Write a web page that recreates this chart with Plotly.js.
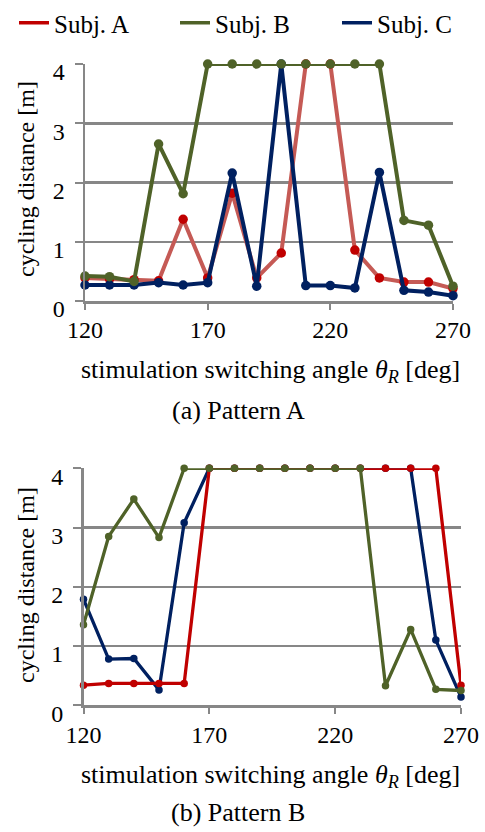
<!DOCTYPE html>
<html>
<head>
<meta charset="utf-8">
<script src="https://cdn.plot.ly/plotly-3.0.1.min.js"></script>
<style>html,body{margin:0;padding:0;background:#fff}#chart{width:485px;height:832px}</style>
</head>
<body>
<div id="chart"></div>
<script>
// switching angles [deg]
const angles = [120,130,140,150,160,170,180,190,200,210,220,230,240,250,260,270];
const xTicks = [120,170,220,270];
const yTicks = [0,1,2,3,4];

// Pattern A: cycling distance [m]
const patternA_subjA = [0.39,0.37,0.36,0.34,1.38,0.39,1.82,0.39,0.81,4,4,0.86,0.39,0.32,0.32,0.21];
const patternA_subjB = [0.42,0.41,0.33,2.65,1.81,4,4,4,4,4,4,4,4,1.36,1.28,0.25];
const patternA_subjC = [0.27,0.27,0.27,0.31,0.27,0.31,2.16,0.25,4,0.26,0.26,0.22,2.17,0.18,0.15,0.09];

// Pattern B: cycling distance [m]
const patternB_subjA = [0.34,0.37,0.37,0.37,0.37,4,4,4,4,4,4,4,4,4,4,0.34];
const patternB_subjB = [1.36,2.85,3.48,2.83,4,4,4,4,4,4,4,4,0.33,1.28,0.27,0.25];
const patternB_subjC = [1.79,0.78,0.79,0.26,3.08,4,4,4,4,4,4,4,4,4,1.1,0.14];

const subjects = ['Subj. A','Subj. B','Subj. C'];

const RED = '#C00000', RED_LIGHT = '#C55A55', GREEN = '#4F6228', BLUE = '#002060';
const FONT = '"Liberation Serif", "Times New Roman", Times, serif';

function tr(y, xa, ya, lineColor, markerColor, lw, ms) {
  return {x: angles, y: y, xaxis: xa, yaxis: ya, type: 'scatter', mode: 'lines+markers',
    line: {color: lineColor, width: lw}, marker: {color: markerColor, size: ms},
    showlegend: false, cliponaxis: false, hoverinfo: 'skip'};
}
function legendTrace(name, color, legendId) {
  return {x: [null], y: [null], type: 'scatter', mode: 'lines', name: name,
    line: {color: color, width: 3.5}, showlegend: true, legend: legendId, xaxis: 'x', yaxis: 'y'};
}

const data = [
  tr(patternA_subjA, 'x', 'y', RED_LIGHT, RED, 4, 9.5),
  tr(patternA_subjC, 'x', 'y', BLUE, BLUE, 4, 9.5),
  tr(patternA_subjB, 'x', 'y', GREEN, GREEN, 4, 9.5),
  tr(patternB_subjC, 'x2', 'y2', BLUE, BLUE, 3.3, 7.5),
  tr(patternB_subjA, 'x2', 'y2', RED, RED, 3.3, 7.5),
  tr(patternB_subjB, 'x2', 'y2', GREEN, GREEN, 3.3, 7.5),
  legendTrace(subjects[0], RED, 'legend'),
  legendTrace(subjects[1], GREEN, 'legend2'),
  legendTrace(subjects[2], BLUE, 'legend3')
];

const GRID = '#878787';
function xax(domain, anchor) {
  return {domain: domain, anchor: anchor, range: [120, 270], tickvals: xTicks, ticktext: xTicks.map(String),
    showgrid: false, zeroline: false, showline: true, linecolor: GRID, linewidth: 2.5,
    ticks: 'outside', ticklen: 6, tickwidth: 2, tickcolor: GRID,
    tickfont: {family: FONT, size: 24, color: '#000'}, fixedrange: true};
}
function yax(domain, anchor) {
  return {domain: domain, anchor: anchor, range: [0, 4], tickvals: yTicks, ticktext: yTicks.map(String),
    showgrid: true, gridcolor: GRID, gridwidth: 2.5, zeroline: false, showline: true, linecolor: GRID, linewidth: 2.5,
    ticks: 'outside', ticklen: 8, tickwidth: 2, tickcolor: GRID, ticklabelstandoff: 5, ticklabelshift: 8,
    tickfont: {family: FONT, size: 24, color: '#000'}, fixedrange: true};
}

const xTitle = 'stimulation switching angle <i>θ</i><sub><i>R</i></sub> [deg]';
function ann(text, x, y, angle, size) {
  return {text: text, x: x, y: y, xref: 'paper', yref: 'paper', xanchor: 'center', yanchor: 'middle',
    showarrow: false, textangle: angle || 0, font: {family: FONT, size: size, color: '#000'}};
}
function leg(xpx) {
  return {orientation: 'h', x: xpx/485, y: 1.0, xanchor: 'left', yanchor: 'top',
    font: {family: FONT, size: 25, color: '#000'}, itemwidth: 30,
    bgcolor: 'rgba(0,0,0,0)'};
}

const layout = {
  width: 485, height: 832,
  margin: {l: 0, r: 0, t: 0, b: 0},
  paper_bgcolor: '#fff', plot_bgcolor: '#fff',
  font: {family: FONT, color: '#000'},
  xaxis: xax([85/485, 453/485], 'y'),
  yaxis: yax([1-301/832, 1-64/832], 'x'),
  xaxis2: xax([83.5/485, 461/485], 'y2'),
  yaxis2: yax([1-705.3/832, 1-468.3/832], 'x2'),
  showlegend: true,
  legend: leg(14),
  legend2: leg(175),
  legend3: leg(337),
  annotations: [
    ann('cycling distance [m]', 26/485, 1-179/832, -90, 24),
    ann(xTitle, 270/485, 1-371/832, 0, 26),
    ann('(a) Pattern A', 238/485, 1-410/832, 0, 26),
    ann('cycling distance [m]', 26/485, 1-585/832, -90, 24),
    ann(xTitle, 270/485, 1-776/832, 0, 26),
    ann('(b) Pattern B', 238/485, 1-812/832, 0, 26)
  ]
};

Plotly.newPlot('chart', data, layout, {displayModeBar: false, staticPlot: true});
</script>
</body>
</html>
